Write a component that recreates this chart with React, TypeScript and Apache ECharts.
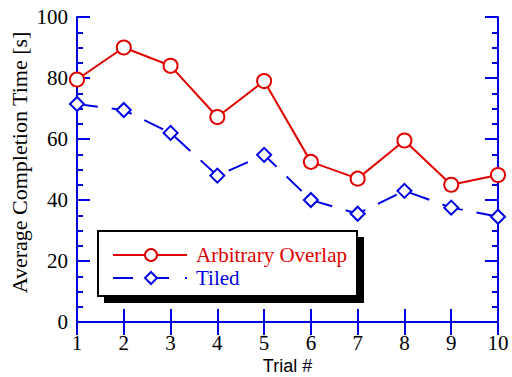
import React, { useEffect, useRef } from "react";
import * as echarts from "echarts";

const trials = [1, 2, 3, 4, 5, 6, 7, 8, 9, 10];
const arbitraryOverlap = [79.5, 90, 84, 67.2, 79, 52.5, 47, 59.5, 45, 48.2];
const tiled = [71.5, 69.5, 62, 48, 54.8, 40, 35.5, 43, 37.5, 34.5];
const legendNames = ["Arbitrary Overlap", "Tiled"];

const RED = "#e00000";
const BLUE = "#0000e6";
const SERIF = "'Liberation Serif', 'Times New Roman', serif";
const SANS = "'Liberation Sans', Arial, sans-serif";

export default function App() {
  const ref = useRef<HTMLDivElement>(null);
  useEffect(() => {
    if (!ref.current) return;
    const chart = echarts.init(ref.current, null, { renderer: "svg" });
    const axisLine = { show: true, lineStyle: { color: BLUE, width: 2 } };
    const tick = { show: true, inside: true, length: 13, lineStyle: { color: BLUE, width: 2 } };
    const minor = { show: true, splitNumber: 4, length: 6, lineStyle: { color: BLUE, width: 2 } };
    chart.setOption({
      animation: false,
      backgroundColor: "#fff",
      grid: { left: 77, right: 14, top: 17, bottom: 55, containLabel: false, outerBoundsMode: "none" },
      xAxis: [
        {
          type: "value",
          position: "bottom",
          min: 1,
          max: 10,
          interval: 1,
          axisLine,
          axisTick: tick,
          splitLine: { show: false },
          axisLabel: { color: "#000", fontFamily: SERIF, fontSize: 21, margin: 10 },
          name: "Trial #",
          nameLocation: "middle",
          nameGap: 35,
          nameMoveOverlap: false,
          nameTextStyle: { color: "#000", fontFamily: SANS, fontSize: 18, lineHeight: 18 },
        },
        {
          type: "value",
          position: "top",
          min: 1,
          max: 10,
          interval: 1,
          axisLine,
          axisTick: tick,
          axisLabel: { show: false },
          splitLine: { show: false },
        },
      ],
      yAxis: [
        {
          type: "value",
          position: "left",
          min: 0,
          max: 100,
          interval: 20,
          axisLine,
          axisTick: tick,
          minorTick: minor,
          splitLine: { show: false },
          axisLabel: { color: "#000", fontFamily: SERIF, fontSize: 21, margin: 9 },
          name: "Average Completion Time [s]",
          nameLocation: "middle",
          nameGap: 47,
          nameMoveOverlap: false,
          nameTextStyle: { color: "#000", fontFamily: SERIF, fontSize: 22, padding: [0, 0, 0, 14] },
        },
        {
          type: "value",
          position: "right",
          min: 0,
          max: 100,
          interval: 20,
          axisLine,
          axisTick: tick,
          minorTick: minor,
          axisLabel: { show: false },
          splitLine: { show: false },
        },
      ],
      series: [
        {
          name: legendNames[0],
          type: "line",
          data: trials.map((t, i) => [t, arbitraryOverlap[i]]),
          symbol: "emptyCircle",
          symbolSize: 14,
          lineStyle: { color: RED, width: 2 },
          itemStyle: { color: RED, borderColor: RED, borderWidth: 2 },
          z: 3,
        },
        {
          name: legendNames[1],
          type: "line",
          data: trials.map((t, i) => [t, tiled[i]]),
          symbol: "emptyDiamond",
          symbolSize: 14,
          lineStyle: { color: BLUE, width: 2, type: [21, 14] },
          itemStyle: { color: BLUE, borderColor: BLUE, borderWidth: 2 },
          z: 3,
        },
      ],
      graphic: [
        { type: "rect", z: 10, shape: { x: 104, y: 237, width: 260, height: 66 }, style: { fill: "#000" } },
        {
          type: "rect",
          z: 11,
          shape: { x: 98, y: 231, width: 259, height: 65 },
          style: { fill: "#fff", stroke: "#000", lineWidth: 2 },
        },
        { type: "line", z: 12, shape: { x1: 113, y1: 255, x2: 187, y2: 255 }, style: { stroke: RED, lineWidth: 2 } },
        { type: "circle", z: 13, shape: { cx: 151, cy: 255, r: 6 }, style: { fill: "#fff", stroke: RED, lineWidth: 2 } },
        {
          type: "text",
          z: 13,
          x: 196,
          y: 255,
          style: { text: legendNames[0], fill: RED, font: `21px ${SERIF}`, verticalAlign: "middle" },
        },
        {
          type: "line",
          z: 12,
          shape: { x1: 113, y1: 278, x2: 187, y2: 278 },
          style: { stroke: BLUE, lineWidth: 2, lineDash: [20, 16] },
        },
        {
          type: "polygon",
          z: 13,
          shape: { points: [[151, 272], [157, 278], [151, 284], [145, 278]] },
          style: { fill: "#fff", stroke: BLUE, lineWidth: 2 },
        },
        {
          type: "text",
          z: 13,
          x: 196,
          y: 278,
          style: { text: legendNames[1], fill: BLUE, font: `21px ${SERIF}`, verticalAlign: "middle" },
        },
      ],
    });
    return () => chart.dispose();
  }, []);
  return <div ref={ref} style={{ position: "absolute", left: 0, top: 0, width: 512, height: 377 }} />;
}
